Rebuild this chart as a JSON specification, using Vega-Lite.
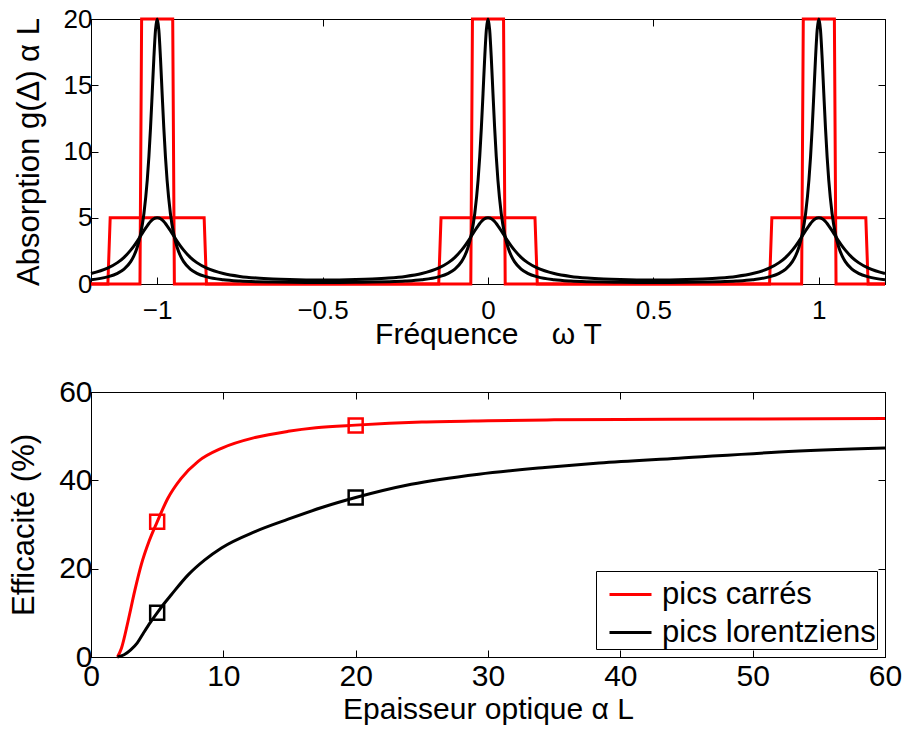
{
  "$schema": "https://vega.github.io/schema/vega-lite/v6.json",
  "background": "white",
  "padding": {"left": 8, "top": 5, "right": 5, "bottom": 2},
  "spacing": 26,
  "resolve": {"scale": {"color": "independent"}, "legend": {"color": "independent"}},
  "config": {
    "font": "Liberation Sans",
    "view": {"stroke": "black", "strokeWidth": 1},
    "axis": {"domainColor": "black", "domainWidth": 1, "tickColor": "black", "tickSize": -7, "tickWidth": 1, "grid": false, "labelColor": "black", "titleColor": "black", "labelFont": "Liberation Sans", "titleFont": "Liberation Sans", "titleFontWeight": "normal", "labelFlush": false, "labelOverlap": false}
  },
  "datasets": {
    "sq": [
      {"x": -1.2, "y": 0, "s": "t"}, {"x": -1.052, "y": 0, "s": "t"}, {"x": -1.047, "y": 20, "s": "t"}, {"x": -0.953, "y": 20, "s": "t"}, {"x": -0.948, "y": 0, "s": "t"},
      {"x": -0.052, "y": 0, "s": "t"}, {"x": -0.047, "y": 20, "s": "t"}, {"x": 0.047, "y": 20, "s": "t"}, {"x": 0.052, "y": 0, "s": "t"},
      {"x": 0.948, "y": 0, "s": "t"}, {"x": 0.953, "y": 20, "s": "t"}, {"x": 1.047, "y": 20, "s": "t"}, {"x": 1.052, "y": 0, "s": "t"}, {"x": 1.2, "y": 0, "s": "t"},
      {"x": -1.2, "y": 0, "s": "w"}, {"x": -1.149, "y": 0, "s": "w"}, {"x": -1.142, "y": 5, "s": "w"}, {"x": -0.858, "y": 5, "s": "w"}, {"x": -0.851, "y": 0, "s": "w"},
      {"x": -0.149, "y": 0, "s": "w"}, {"x": -0.142, "y": 5, "s": "w"}, {"x": 0.142, "y": 5, "s": "w"}, {"x": 0.149, "y": 0, "s": "w"},
      {"x": 0.851, "y": 0, "s": "w"}, {"x": 0.858, "y": 5, "s": "w"}, {"x": 1.142, "y": 5, "s": "w"}, {"x": 1.149, "y": 0, "s": "w"}, {"x": 1.2, "y": 0, "s": "w"}
    ],
    "lor": [
      {"x": -1.2, "a": 0.324, "b": 0.787}, {"x": -1.15, "a": 0.538, "b": 1.192}, {"x": -1.12, "a": 0.807, "b": 1.612}, {"x": -1.1, "a": 1.126, "b": 2.016},
      {"x": -1.08, "a": 1.69, "b": 2.553}, {"x": -1.07, "a": 2.14, "b": 2.877}, {"x": -1.06, "a": 2.79, "b": 3.238}, {"x": -1.05, "a": 3.78, "b": 3.625},
      {"x": -1.04, "a": 5.32, "b": 4.021}, {"x": -1.03, "a": 7.83, "b": 4.396}, {"x": -1.025, "a": 9.61, "b": 4.564}, {"x": -1.02, "a": 11.82, "b": 4.712},
      {"x": -1.015, "a": 14.39, "b": 4.834}, {"x": -1.01, "a": 17.05, "b": 4.925}, {"x": -1.005, "a": 19.17, "b": 4.981}, {"x": -1, "a": 20, "b": 5},
      {"x": -0.995, "a": 19.17, "b": 4.981}, {"x": -0.99, "a": 17.05, "b": 4.925}, {"x": -0.985, "a": 14.39, "b": 4.834}, {"x": -0.98, "a": 11.82, "b": 4.712},
      {"x": -0.975, "a": 9.61, "b": 4.564}, {"x": -0.97, "a": 7.83, "b": 4.396}, {"x": -0.96, "a": 5.32, "b": 4.021}, {"x": -0.95, "a": 3.78, "b": 3.625},
      {"x": -0.94, "a": 2.79, "b": 3.238}, {"x": -0.93, "a": 2.14, "b": 2.877}, {"x": -0.92, "a": 1.69, "b": 2.553}, {"x": -0.9, "a": 1.126, "b": 2.016},
      {"x": -0.88, "a": 0.807, "b": 1.612}, {"x": -0.85, "a": 0.538, "b": 1.192}, {"x": -0.8, "a": 0.324, "b": 0.787},
      {"x": -0.75, "a": 0.225, "b": 0.571}, {"x": -0.7, "a": 0.173, "b": 0.449}, {"x": -0.65, "a": 0.143, "b": 0.376}, {"x": -0.6, "a": 0.125, "b": 0.333},
      {"x": -0.55, "a": 0.116, "b": 0.31}, {"x": -0.5, "a": 0.113, "b": 0.303}, {"x": -0.45, "a": 0.116, "b": 0.31}, {"x": -0.4, "a": 0.125, "b": 0.333},
      {"x": -0.35, "a": 0.143, "b": 0.376}, {"x": -0.3, "a": 0.173, "b": 0.449}, {"x": -0.25, "a": 0.225, "b": 0.571},
      {"x": -0.2, "a": 0.324, "b": 0.787}, {"x": -0.15, "a": 0.538, "b": 1.192}, {"x": -0.12, "a": 0.807, "b": 1.612}, {"x": -0.1, "a": 1.126, "b": 2.016},
      {"x": -0.08, "a": 1.69, "b": 2.553}, {"x": -0.07, "a": 2.14, "b": 2.877}, {"x": -0.06, "a": 2.79, "b": 3.238}, {"x": -0.05, "a": 3.78, "b": 3.625},
      {"x": -0.04, "a": 5.32, "b": 4.021}, {"x": -0.03, "a": 7.83, "b": 4.396}, {"x": -0.025, "a": 9.61, "b": 4.564}, {"x": -0.02, "a": 11.82, "b": 4.712},
      {"x": -0.015, "a": 14.39, "b": 4.834}, {"x": -0.01, "a": 17.05, "b": 4.925}, {"x": -0.005, "a": 19.17, "b": 4.981}, {"x": 0, "a": 20, "b": 5},
      {"x": 0.005, "a": 19.17, "b": 4.981}, {"x": 0.01, "a": 17.05, "b": 4.925}, {"x": 0.015, "a": 14.39, "b": 4.834}, {"x": 0.02, "a": 11.82, "b": 4.712},
      {"x": 0.025, "a": 9.61, "b": 4.564}, {"x": 0.03, "a": 7.83, "b": 4.396}, {"x": 0.04, "a": 5.32, "b": 4.021}, {"x": 0.05, "a": 3.78, "b": 3.625},
      {"x": 0.06, "a": 2.79, "b": 3.238}, {"x": 0.07, "a": 2.14, "b": 2.877}, {"x": 0.08, "a": 1.69, "b": 2.553}, {"x": 0.1, "a": 1.126, "b": 2.016},
      {"x": 0.12, "a": 0.807, "b": 1.612}, {"x": 0.15, "a": 0.538, "b": 1.192}, {"x": 0.2, "a": 0.324, "b": 0.787},
      {"x": 0.25, "a": 0.225, "b": 0.571}, {"x": 0.3, "a": 0.173, "b": 0.449}, {"x": 0.35, "a": 0.143, "b": 0.376}, {"x": 0.4, "a": 0.125, "b": 0.333},
      {"x": 0.45, "a": 0.116, "b": 0.31}, {"x": 0.5, "a": 0.113, "b": 0.303}, {"x": 0.55, "a": 0.116, "b": 0.31}, {"x": 0.6, "a": 0.125, "b": 0.333},
      {"x": 0.65, "a": 0.143, "b": 0.376}, {"x": 0.7, "a": 0.173, "b": 0.449}, {"x": 0.75, "a": 0.225, "b": 0.571},
      {"x": 0.8, "a": 0.324, "b": 0.787}, {"x": 0.85, "a": 0.538, "b": 1.192}, {"x": 0.88, "a": 0.807, "b": 1.612}, {"x": 0.9, "a": 1.126, "b": 2.016},
      {"x": 0.92, "a": 1.69, "b": 2.553}, {"x": 0.93, "a": 2.14, "b": 2.877}, {"x": 0.94, "a": 2.79, "b": 3.238}, {"x": 0.95, "a": 3.78, "b": 3.625},
      {"x": 0.96, "a": 5.32, "b": 4.021}, {"x": 0.97, "a": 7.83, "b": 4.396}, {"x": 0.975, "a": 9.61, "b": 4.564}, {"x": 0.98, "a": 11.82, "b": 4.712},
      {"x": 0.985, "a": 14.39, "b": 4.834}, {"x": 0.99, "a": 17.05, "b": 4.925}, {"x": 0.995, "a": 19.17, "b": 4.981}, {"x": 1, "a": 20, "b": 5},
      {"x": 1.005, "a": 19.17, "b": 4.981}, {"x": 1.01, "a": 17.05, "b": 4.925}, {"x": 1.015, "a": 14.39, "b": 4.834}, {"x": 1.02, "a": 11.82, "b": 4.712},
      {"x": 1.025, "a": 9.61, "b": 4.564}, {"x": 1.03, "a": 7.83, "b": 4.396}, {"x": 1.04, "a": 5.32, "b": 4.021}, {"x": 1.05, "a": 3.78, "b": 3.625},
      {"x": 1.06, "a": 2.79, "b": 3.238}, {"x": 1.07, "a": 2.14, "b": 2.877}, {"x": 1.08, "a": 1.69, "b": 2.553}, {"x": 1.1, "a": 1.126, "b": 2.016},
      {"x": 1.12, "a": 0.807, "b": 1.612}, {"x": 1.15, "a": 0.538, "b": 1.192}, {"x": 1.2, "a": 0.324, "b": 0.787}
    ],
    "eff": [
      {"x": 2.0, "y": 0, "s": "pics carrés"}, {"x": 2.3, "y": 2.0, "s": "pics carrés"}, {"x": 2.8, "y": 8.1, "s": "pics carrés"}, {"x": 3.3, "y": 14.9, "s": "pics carrés"},
      {"x": 3.8, "y": 20.9, "s": "pics carrés"}, {"x": 4.4, "y": 26.3, "s": "pics carrés"}, {"x": 5, "y": 30.6, "s": "pics carrés"}, {"x": 5.8, "y": 35.9, "s": "pics carrés"},
      {"x": 6.8, "y": 40.4, "s": "pics carrés"}, {"x": 8.1, "y": 44.3, "s": "pics carrés"}, {"x": 9.9, "y": 47.3, "s": "pics carrés"}, {"x": 12.4, "y": 49.7, "s": "pics carrés"},
      {"x": 14.9, "y": 51.1, "s": "pics carrés"}, {"x": 17, "y": 51.9, "s": "pics carrés"}, {"x": 20, "y": 52.5, "s": "pics carrés"}, {"x": 25, "y": 53.2, "s": "pics carrés"},
      {"x": 30, "y": 53.5, "s": "pics carrés"}, {"x": 35, "y": 53.7, "s": "pics carrés"}, {"x": 40, "y": 53.8, "s": "pics carrés"}, {"x": 50, "y": 53.9, "s": "pics carrés"},
      {"x": 60, "y": 54.0, "s": "pics carrés"},
      {"x": 2.0, "y": 0, "s": "pics lorentziens"}, {"x": 2.5, "y": 0.5, "s": "pics lorentziens"}, {"x": 3.0, "y": 1.6, "s": "pics lorentziens"}, {"x": 3.5, "y": 3.2, "s": "pics lorentziens"},
      {"x": 4.0, "y": 5.6, "s": "pics lorentziens"}, {"x": 4.5, "y": 7.9, "s": "pics lorentziens"}, {"x": 5, "y": 10.0, "s": "pics lorentziens"}, {"x": 5.5, "y": 12.0, "s": "pics lorentziens"},
      {"x": 6.07, "y": 14.1, "s": "pics lorentziens"}, {"x": 7.34, "y": 18.6, "s": "pics lorentziens"},
      {"x": 8.6, "y": 22.0, "s": "pics lorentziens"}, {"x": 9.86, "y": 24.7, "s": "pics lorentziens"}, {"x": 12.4, "y": 28.4, "s": "pics lorentziens"}, {"x": 14.9, "y": 31.2, "s": "pics lorentziens"},
      {"x": 17.5, "y": 33.9, "s": "pics lorentziens"}, {"x": 20, "y": 36.1, "s": "pics lorentziens"}, {"x": 24.2, "y": 39.1, "s": "pics lorentziens"}, {"x": 29.3, "y": 41.4, "s": "pics lorentziens"},
      {"x": 34.3, "y": 42.9, "s": "pics lorentziens"}, {"x": 38.4, "y": 43.9, "s": "pics lorentziens"}, {"x": 44.4, "y": 45.0, "s": "pics lorentziens"}, {"x": 52, "y": 46.4, "s": "pics lorentziens"},
      {"x": 60, "y": 47.3, "s": "pics lorentziens"}
    ],
    "mk": [
      {"x": 5, "y": 30.6, "s": "pics carrés"}, {"x": 20, "y": 52.4, "s": "pics carrés"},
      {"x": 5, "y": 10.0, "s": "pics lorentziens"}, {"x": 20, "y": 36.1, "s": "pics lorentziens"}
    ]
  },
  "vconcat": [
    {
      "width": 794,
      "height": 265,
      "resolve": {"axis": {"x": "independent", "y": "independent"}},
      "layer": [
        {
          "data": {"name": "sq"},
          "mark": {"type": "line", "color": "#ff0000", "strokeWidth": 3, "clip": false},
          "encoding": {
            "x": {"field": "x", "type": "quantitative", "scale": {"domain": [-1.2, 1.2], "nice": false, "zero": false},
              "axis": {"values": [-1, -0.5, 0, 0.5, 1], "format": "~g", "title": "Fréquence\u00a0\u00a0\u00a0\u00a0ω T", "labelFontSize": 26, "titleFontSize": 30, "labelPadding": 20, "titlePadding": -4}},
            "y": {"field": "y", "type": "quantitative", "scale": {"domain": [0, 20], "nice": false},
              "axis": {"values": [0, 5, 10, 15, 20], "title": "Absorption g(Δ) α L", "labelFontSize": 26, "titleFontSize": 31, "labelPadding": 6, "titlePadding": 18}},
            "detail": {"field": "s"}
          }
        },
        {
          "data": {"name": "lor"},
          "mark": {"type": "line", "color": "#000000", "strokeWidth": 3, "clip": false, "interpolate": "monotone"},
          "encoding": {
            "x": {"field": "x", "type": "quantitative", "scale": {"domain": [-1.2, 1.2], "nice": false, "zero": false}, "axis": null},
            "y": {"field": "a", "type": "quantitative", "scale": {"domain": [0, 20], "nice": false}, "axis": null}
          }
        },
        {
          "data": {"name": "lor"},
          "mark": {"type": "line", "color": "#000000", "strokeWidth": 3, "clip": false, "interpolate": "monotone"},
          "encoding": {
            "x": {"field": "x", "type": "quantitative", "scale": {"domain": [-1.2, 1.2], "nice": false, "zero": false}, "axis": null},
            "y": {"field": "b", "type": "quantitative", "scale": {"domain": [0, 20], "nice": false}, "axis": null}
          }
        },
        {
          "data": {"name": "lor"},
          "mark": {"type": "line", "opacity": 0},
          "encoding": {
            "x": {"field": "x", "type": "quantitative", "scale": {"domain": [-1.2, 1.2], "nice": false, "zero": false},
              "axis": {"orient": "top", "values": [-1, -0.5, 0, 0.5, 1], "labels": false, "title": null}},
            "y": {"field": "b", "type": "quantitative", "scale": {"domain": [0, 20], "nice": false},
              "axis": {"orient": "right", "values": [0, 5, 10, 15, 20], "labels": false, "title": null}}
          }
        }
      ]
    },
    {
      "width": 794,
      "height": 265,
      "resolve": {"axis": {"x": "independent", "y": "independent"}},
      "layer": [
        {
          "data": {"name": "eff"},
          "mark": {"type": "line", "strokeWidth": 3, "interpolate": "monotone"},
          "encoding": {
            "x": {"field": "x", "type": "quantitative", "scale": {"domain": [0, 60], "nice": false},
              "axis": {"values": [0, 10, 20, 30, 40, 50, 60], "title": "Epaisseur optique α L", "labelFontSize": 30, "titleFontSize": 30, "labelPadding": 11, "titlePadding": 3}},
            "y": {"field": "y", "type": "quantitative", "scale": {"domain": [0, 60], "nice": false},
              "axis": {"values": [0, 20, 40, 60], "title": "Efficacité (%)", "labelFontSize": 30, "titleFontSize": 31, "labelPadding": 6, "titlePadding": 18}},
            "color": {"field": "s", "type": "nominal", "scale": {"domain": ["pics carrés", "pics lorentziens"], "range": ["#ff0000", "#000000"]},
              "legend": {"title": null, "orient": "bottom-right", "offset": 8, "labelFontSize": 31, "labelFont": "Liberation Sans", "labelColor": "black", "labelLimit": 0,
                "symbolType": "stroke", "symbolSize": 1764, "symbolStrokeWidth": 3, "symbolOffset": 11, "strokeColor": "black", "fillColor": "white", "padding": 1, "rowPadding": -5, "labelOffset": 9, "cornerRadius": 0}}
          }
        },
        {
          "data": {"name": "mk"},
          "mark": {"type": "point", "shape": "square", "filled": false, "size": 196, "strokeWidth": 2.5, "opacity": 1},
          "encoding": {
            "x": {"field": "x", "type": "quantitative", "scale": {"domain": [0, 60], "nice": false}, "axis": null},
            "y": {"field": "y", "type": "quantitative", "scale": {"domain": [0, 60], "nice": false}, "axis": null},
            "color": {"field": "s", "type": "nominal", "scale": {"domain": ["pics carrés", "pics lorentziens"], "range": ["#ff0000", "#000000"]}, "legend": null}
          }
        },
        {
          "data": {"name": "mk"},
          "mark": {"type": "point", "opacity": 0},
          "encoding": {
            "x": {"field": "x", "type": "quantitative", "scale": {"domain": [0, 60], "nice": false},
              "axis": {"orient": "top", "values": [0, 10, 20, 30, 40, 50, 60], "labels": false, "title": null}},
            "y": {"field": "y", "type": "quantitative", "scale": {"domain": [0, 60], "nice": false},
              "axis": {"orient": "right", "values": [0, 20, 40, 60], "labels": false, "title": null}}
          }
        }
      ]
    }
  ]
}
